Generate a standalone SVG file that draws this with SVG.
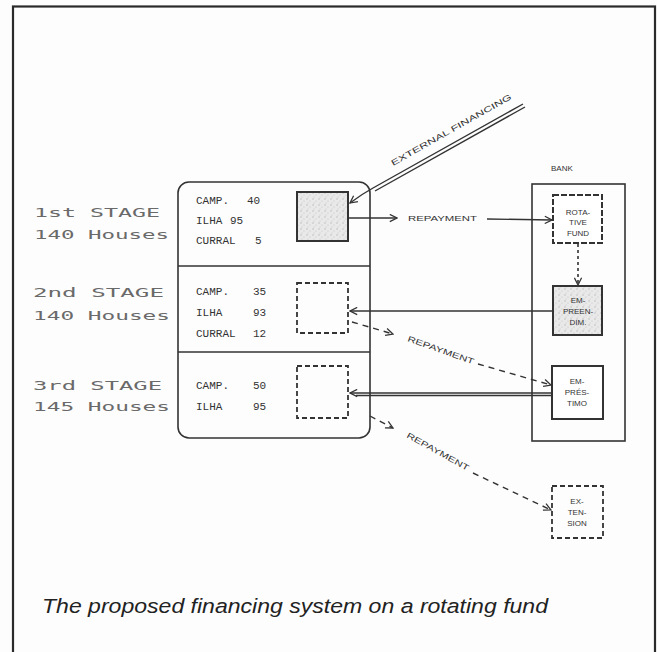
<svg xmlns="http://www.w3.org/2000/svg" width="657" height="652" viewBox="0 0 657 652">
<defs>
<style>
.frame{fill:none;stroke:#2a2a2a;stroke-width:2.2}
.box{fill:none;stroke:#333;stroke-width:1.6}
.solid{fill:#fff;stroke:#333;stroke-width:2}
.shade{fill:url(#speckle);stroke:#333;stroke-width:2}
.dash{fill:none;stroke:#333;stroke-width:1.8;stroke-dasharray:5,3}
.ln{fill:none;stroke:#333;stroke-width:1.4}
.dl{fill:none;stroke:#333;stroke-width:1.4;stroke-dasharray:6,5}
.dot{fill:none;stroke:#333;stroke-width:1.6;stroke-dasharray:3,3}
.stage{font-family:"DejaVu Sans Mono","Liberation Mono",monospace;font-size:12px;fill:#6a6a6a}
.val{font-family:"Liberation Mono","DejaVu Sans Mono",monospace;font-size:11px;fill:#333}
.sm{font-family:"Liberation Sans",Arial,sans-serif;font-size:8px;fill:#333}
.cap{font-family:"Liberation Sans",Arial,sans-serif;font-style:italic;font-size:20px;fill:#222}
</style>
<pattern id="speckle" width="6" height="6" patternUnits="userSpaceOnUse">
<rect width="6" height="6" fill="#e9e9e9"/>
<circle cx="1" cy="1" r="0.7" fill="#b5b5b5"/>
<circle cx="4" cy="3" r="0.6" fill="#c2c2c2"/>
<circle cx="2" cy="5" r="0.5" fill="#bcbcbc"/>
</pattern>
<marker id="ah" viewBox="0 0 10 10" refX="9" refY="5" markerWidth="9" markerHeight="9" markerUnits="userSpaceOnUse" orient="auto">
<path d="M1,1 L9,5 L1,9" fill="none" stroke="#333" stroke-width="1.4"/>
</marker>
</defs>
<rect x="0" y="0" width="657" height="652" fill="#fdfdfd"/>
<rect class="frame" x="13" y="6.5" width="642" height="660"/>

<g id="stage-labels">
<text class="stage" x="34" y="217" textLength="126" lengthAdjust="spacingAndGlyphs">1st STAGE</text>
<text class="stage" x="34" y="239" textLength="135" lengthAdjust="spacingAndGlyphs">140 Houses</text>
<text class="stage" x="33" y="297" textLength="131" lengthAdjust="spacingAndGlyphs">2nd STAGE</text>
<text class="stage" x="33" y="320" textLength="137" lengthAdjust="spacingAndGlyphs">140 Houses</text>
<text class="stage" x="33" y="390" textLength="129" lengthAdjust="spacingAndGlyphs">3rd STAGE</text>
<text class="stage" x="33" y="411" textLength="137" lengthAdjust="spacingAndGlyphs">145 Houses</text>
</g>

<g id="stages-box">
<rect class="box" x="178" y="182" width="192" height="256" rx="11"/>
<line class="box" x1="178" y1="266" x2="370" y2="266"/>
<line class="box" x1="178" y1="352" x2="370" y2="352"/>
</g>

<g id="stage1">
<text class="val" x="196" y="204">CAMP.</text><text class="val" x="247" y="204">40</text>
<text class="val" x="196" y="224">ILHA</text><text class="val" x="230" y="224">95</text>
<text class="val" x="196" y="244">CURRAL</text><text class="val" x="255" y="244">5</text>
<rect class="shade" x="297" y="192" width="51" height="49"/>
</g>
<g id="stage2">
<text class="val" x="196" y="295">CAMP.</text><text class="val" x="253" y="295">35</text>
<text class="val" x="196" y="316">ILHA</text><text class="val" x="253" y="316">93</text>
<text class="val" x="196" y="337">CURRAL</text><text class="val" x="253" y="337">12</text>
<rect class="dash" x="297" y="283" width="51" height="50"/>
</g>
<g id="stage3">
<text class="val" x="196" y="389">CAMP.</text><text class="val" x="253" y="389">50</text>
<text class="val" x="196" y="410">ILHA</text><text class="val" x="253" y="410">95</text>
<rect class="dash" x="297" y="366" width="51" height="52"/>
</g>

<g id="bank">
<text class="sm" x="551" y="171">BANK</text>
<rect class="box" x="532" y="184" width="93" height="257"/>
</g>
<g id="rotative-fund">
<rect class="solid" x="553" y="195" width="49" height="48" stroke-dasharray="6,2"/>
<text class="sm" x="578" y="215" text-anchor="middle">ROTA-</text>
<text class="sm" x="578" y="225" text-anchor="middle">TIVE</text>
<text class="sm" x="578" y="236" text-anchor="middle">FUND</text>
</g>
<g id="empreendimento">
<rect class="shade" x="553" y="286" width="49" height="49"/>
<text class="sm" x="578" y="303" text-anchor="middle">EM-</text>
<text class="sm" x="578" y="314" text-anchor="middle">PREEN-</text>
<text class="sm" x="578" y="325" text-anchor="middle">DIM.</text>
</g>
<g id="emprestimo">
<rect class="solid" x="552" y="366" width="51" height="53"/>
<text class="sm" x="577" y="384" text-anchor="middle">EM-</text>
<text class="sm" x="577" y="395" text-anchor="middle">PRÉS-</text>
<text class="sm" x="577" y="406" text-anchor="middle">TIMO</text>
</g>
<g id="extension">
<rect class="dash" x="552" y="486" width="51" height="52"/>
<text class="sm" x="577" y="504" text-anchor="middle">EX-</text>
<text class="sm" x="577" y="515" text-anchor="middle">TEN-</text>
<text class="sm" x="577" y="526" text-anchor="middle">SION</text>
</g>

<g id="connectors">
<path class="ln" d="M523,104 L373,188 Q362,194 350,203" marker-end="url(#ah)"/>
<path class="ln" d="M525,107 L375,191"/>
<text class="sm" transform="translate(393,166) rotate(-29.5)" textLength="137" lengthAdjust="spacingAndGlyphs">EXTERNAL FINANCING</text>

<line class="ln" x1="348" y1="218" x2="397" y2="218" marker-end="url(#ah)"/>
<text class="sm" x="408" y="221" textLength="69" lengthAdjust="spacingAndGlyphs">REPAYMENT</text>
<line class="ln" x1="487" y1="219" x2="552" y2="220" marker-end="url(#ah)"/>

<line class="dot" x1="578" y1="244" x2="578" y2="285" marker-end="url(#ah)"/>

<line class="ln" x1="552" y1="311" x2="350" y2="311" marker-end="url(#ah)"/>
<line class="ln" x1="552" y1="393" x2="350" y2="393" marker-end="url(#ah)"/>
<line class="ln" x1="552" y1="395.5" x2="356" y2="395.5"/>

<line class="dl" x1="352" y1="322" x2="393" y2="334" marker-end="url(#ah)"/>
<text class="sm" transform="translate(407,341) rotate(19.5)" textLength="70" lengthAdjust="spacingAndGlyphs">REPAYMENT</text>
<line class="dl" x1="478" y1="364" x2="551" y2="385" marker-end="url(#ah)"/>

<line class="dl" x1="370" y1="416" x2="393" y2="428" marker-end="url(#ah)"/>
<text class="sm" transform="translate(406,437) rotate(29)" textLength="70" lengthAdjust="spacingAndGlyphs">REPAYMENT</text>
<line class="dl" x1="473" y1="473" x2="551" y2="510" marker-end="url(#ah)"/>
</g>

<text class="cap" x="42" y="613" textLength="506" lengthAdjust="spacingAndGlyphs">The proposed financing system on a rotating fund</text>
</svg>
